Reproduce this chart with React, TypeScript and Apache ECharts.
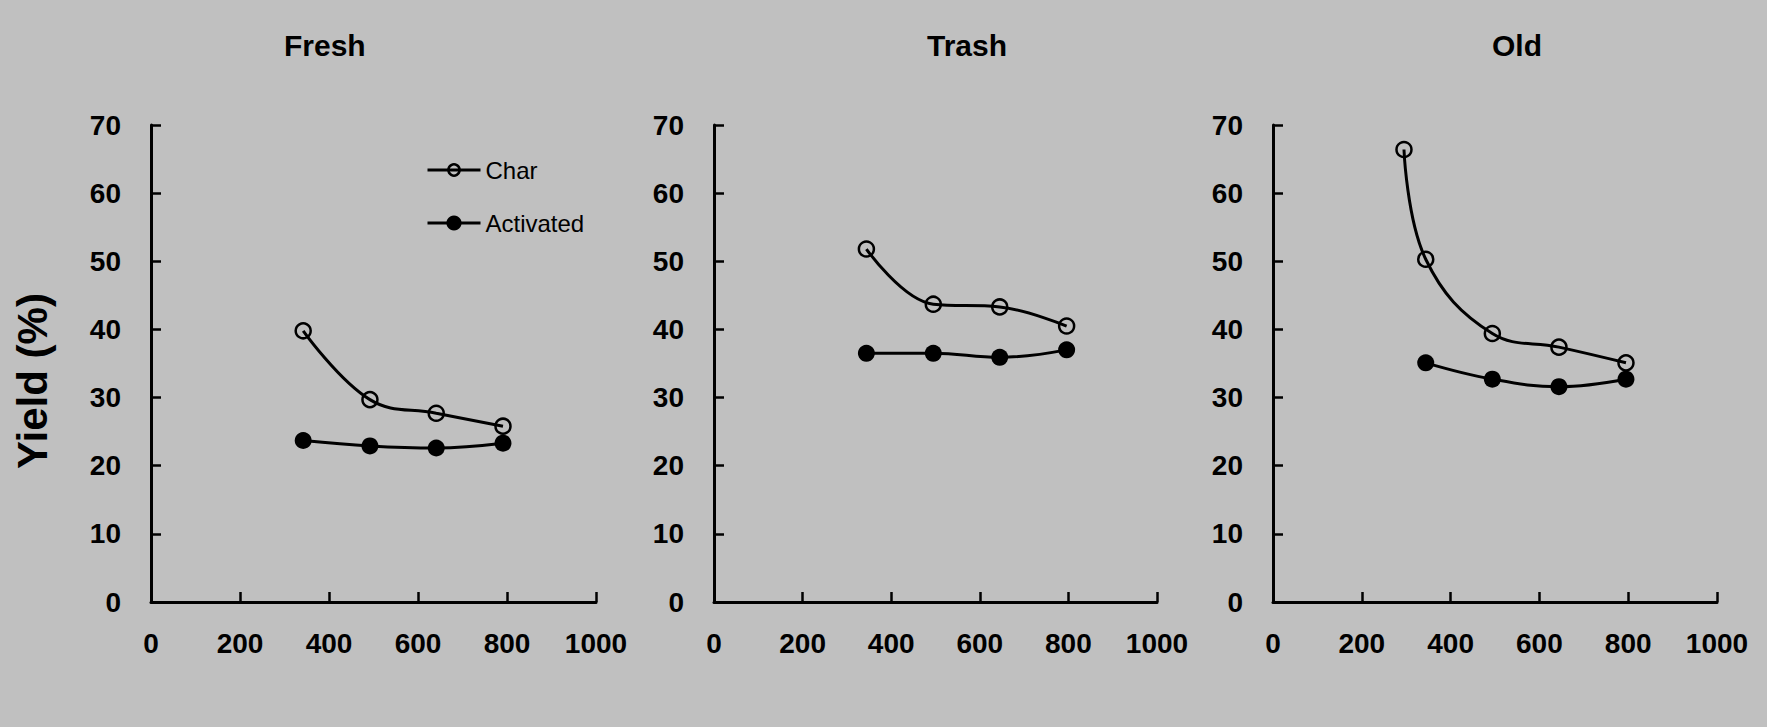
import React, { useEffect, useRef } from "react";
import * as echarts from "echarts";

// ---- data (temperature, yield %) ----
const panelTitles = ["Fresh", "Trash", "Old"];
const xTicks = [0, 200, 400, 600, 800, 1000];
const yTicks = [0, 10, 20, 30, 40, 50, 60, 70];
const yAxisTitle = "Yield (%)";

const freshCharX = [342, 492, 641, 791];
const freshChar = [39.8, 29.7, 27.7, 25.8];
const freshActX = [342, 492, 641, 791];
const freshAct = [23.7, 22.9, 22.6, 23.3];

const trashCharX = [344, 495, 645, 796];
const trashChar = [51.8, 43.7, 43.3, 40.5];
const trashActX = [344, 495, 645, 796];
const trashAct = [36.5, 36.5, 35.9, 37.0];

const oldCharX = [295, 344, 494, 644, 795];
const oldChar = [66.4, 50.3, 39.4, 37.4, 35.1];
const oldActX = [344, 494, 644, 795];
const oldAct = [35.1, 32.7, 31.6, 32.7];

const charX = [freshCharX, trashCharX, oldCharX];
const charY = [freshChar, trashChar, oldChar];
const actX = [freshActX, trashActX, oldActX];
const actY = [freshAct, trashAct, oldAct];

const BG = "#c0c0c0";
const FONT = "'Liberation Sans', Arial, sans-serif";

export default function App() {
  const ref = useRef<HTMLDivElement>(null);

  useEffect(() => {
    if (!ref.current) return;
    const chart = echarts.init(ref.current, null, { renderer: "svg" });

    const gridLefts = [151, 714, 1273];
    const gridWidths = [445, 443, 444];
    const titleLefts = [284, 927, 1492];

    const pairs = (xs: number[], ys: number[]) => xs.map((x, i) => [x, ys[i]]);

    const grids = gridLefts.map((l, i) => ({
      left: l,
      top: 125,
      width: gridWidths[i],
      height: 477,
      containLabel: false,
    }));

    const axisLineStyle = { color: "#000", width: 3 };
    const labelStyle = {
      color: "#000",
      fontSize: 28,
      fontWeight: "bold" as const,
      fontFamily: FONT,
    };

    const xAxes = panelTitles.map((_, i) => ({
      type: "value" as const,
      gridIndex: i,
      min: xTicks[0],
      max: xTicks[xTicks.length - 1],
      interval: xTicks[1] - xTicks[0],
      axisLine: { show: true, lineStyle: axisLineStyle },
      axisTick: { show: true, inside: true, length: 10, lineStyle: { color: "#000", width: 2.5 } },
      axisLabel: { ...labelStyle, margin: 27, formatter: (v: number) => String(v) },
      splitLine: { show: false },
    }));

    const yAxes = panelTitles.map((_, i) => ({
      type: "value" as const,
      gridIndex: i,
      min: yTicks[0],
      max: yTicks[yTicks.length - 1],
      interval: yTicks[1] - yTicks[0],
      axisLine: { show: true, lineStyle: axisLineStyle },
      axisTick: { show: true, inside: true, length: 10, lineStyle: { color: "#000", width: 2.5 } },
      axisLabel: { ...labelStyle, margin: 30, formatter: (v: number) => String(v) },
      splitLine: { show: false },
    }));

    const series: any[] = [];
    panelTitles.forEach((_, i) => {
      series.push({
        name: "Char",
        type: "line",
        xAxisIndex: i,
        yAxisIndex: i,
        data: pairs(charX[i], charY[i]),
        smooth: 0.4,
        symbol: "circle",
        symbolSize: 15,
        lineStyle: { color: "#000", width: 3 },
        itemStyle: { color: "rgba(0,0,0,0)", borderColor: "#000", borderWidth: 2.5 },
        z: 3,
      });
      series.push({
        name: "Activated",
        type: "line",
        xAxisIndex: i,
        yAxisIndex: i,
        data: pairs(actX[i], actY[i]),
        smooth: 0.4,
        symbol: "circle",
        symbolSize: 17,
        lineStyle: { color: "#000", width: 3 },
        itemStyle: { color: "#000", borderColor: "#000", borderWidth: 0 },
        z: 3,
      });
    });

    const legendText = { color: "#000", fontSize: 24, fontFamily: FONT };

    chart.setOption({
      animation: false,
      backgroundColor: BG,
      title: panelTitles.map((t, i) => ({
        text: t,
        left: titleLefts[i],
        top: 30,
        padding: 0,
        textStyle: { color: "#000", fontSize: 30, fontWeight: "bold", fontFamily: FONT },
      })),
      legend: [
        {
          data: ["Char"],
          left: 426,
          top: 158,
          padding: 0,
          itemWidth: 53,
          itemHeight: 14,
          itemGap: 0,
          textStyle: legendText,
          lineStyle: { color: "#000", width: 3 },
          itemStyle: { color: "rgba(0,0,0,0)", borderColor: "#000", borderWidth: 2.5 },
          selectedMode: false,
        },
        {
          data: ["Activated"],
          left: 426,
          top: 211,
          padding: 0,
          itemWidth: 53,
          itemHeight: 19,
          itemGap: 0,
          textStyle: legendText,
          lineStyle: { color: "#000", width: 3 },
          itemStyle: { color: "#000", borderWidth: 0 },
          selectedMode: false,
        },
      ],
      graphic: [
        {
          type: "text",
          x: 32,
          y: 381,
          rotation: Math.PI / 2,
          style: {
            text: yAxisTitle,
            fill: "#000",
            fontSize: 42,
            fontWeight: "bold",
            fontFamily: FONT,
            align: "center",
            verticalAlign: "middle",
          },
        },
      ],
      grid: grids,
      xAxis: xAxes,
      yAxis: yAxes,
      series,
    });

    return () => chart.dispose();
  }, []);

  return (
    <div
      ref={ref}
      style={{ position: "absolute", left: 0, top: 0, width: 1767, height: 727 }}
    />
  );
}
